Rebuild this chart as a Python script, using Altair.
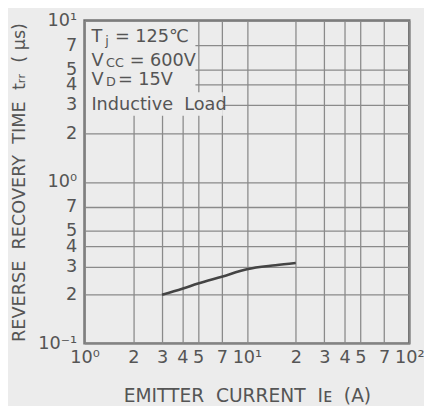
import altair as alt
import pandas as pd

# data
current_a = [3, 4, 5, 7, 10, 15, 20]
trr_us = [0.2, 0.218, 0.235, 0.259, 0.288, 0.305, 0.315]

x_ticks = [1, 2, 3, 4, 5, 7, 10, 20, 30, 40, 50, 70, 100]
x_tick_labels = ["10⁰", "2", "3", "4", "5", "7", "10¹", "2", "3", "4", "5", "7", "10²"]
y_ticks = [0.1, 0.2, 0.3, 0.4, 0.5, 0.7, 1, 2, 3, 4, 5, 7, 10]
y_tick_labels = ["10⁻¹", "2", "3", "4", "5", "7", "10⁰", "2", "3", "4", "5", "7", "10¹"]

FONT = "DejaVu Sans"
INK = "#555555"
BG = "#ececec"
SP = "\u00a0 "


def label_expr(vals, labs):
    expr = "''"
    for v, l in reversed(list(zip(vals, labs))):
        expr = f"abs(datum.value - {v}) < {v} * 0.001 ? '{l}' : ({expr})"
    return expr


df = pd.DataFrame({"ie": current_a, "trr": trr_us})
one = pd.DataFrame({"k": [0]})

xscale = alt.Scale(type="log", domain=[1, 100], nice=False)
yscale = alt.Scale(type="log", domain=[0.1, 10], nice=False)

x_title = SP.join(["EMITTER", "CURRENT", "Iᴇ", "(A)"])
y_title = SP.join(["REVERSE", "RECOVERY", "TIME", "tᵣᵣ", "( μs)"])

curve = alt.Chart(df).mark_line(color="#444444", strokeWidth=2.6, interpolate="monotone").encode(
    x=alt.X("ie:Q", scale=xscale,
            axis=alt.Axis(values=x_ticks, labelExpr=label_expr(x_ticks, x_tick_labels),
                          title=x_title, grid=True, ticks=False, domain=False,
                          labelFont=FONT, labelFontSize=18, labelColor=INK, labelPadding=6,
                          labelFlush=False, labelOverlap=False,
                          titleFont=FONT, titleFontSize=19, titleFontWeight="normal", titleColor=INK,
                          titlePadding=20, gridColor="#8a8a8a", gridWidth=1.3, gridOpacity=1)),
    y=alt.Y("trr:Q", scale=yscale,
            axis=alt.Axis(values=y_ticks, labelExpr=label_expr(y_ticks, y_tick_labels),
                          title=y_title, grid=True, ticks=False, domain=False,
                          labelFont=FONT, labelFontSize=18, labelColor=INK, labelPadding=8,
                          labelFlush=False, labelOverlap=False,
                          titleFont=FONT, titleFontSize=18, titleFontWeight="normal", titleColor=INK,
                          titlePadding=10, gridColor="#8a8a8a", gridWidth=1.3, gridOpacity=1)),
)

mask_a = alt.Chart(one).mark_rect(fill=BG, stroke=None).encode(
    x=alt.value(1.5), x2=alt.value(113), y=alt.value(1.5), y2=alt.value(74))
mask_b = alt.Chart(one).mark_rect(fill=BG, stroke=None).encode(
    x=alt.value(1.5), x2=alt.value(141), y=alt.value(73), y2=alt.value(97))


def txt(s, x, y, size=18):
    return alt.Chart(one).mark_text(text=s, font=FONT, fontSize=size, color=INK,
                                    align="left", baseline="alphabetic").encode(
        x=alt.value(x), y=alt.value(y))


annotations = [
    txt("T", 7, 22), txt("j", 21, 25, 13), txt("= 125℃", 31, 22),
    txt("V", 7, 46), txt("CC", 22, 47, 13), txt("= 600V", 46, 46),
    txt("V", 7, 66), txt("D", 22, 67, 13), txt("= 15V", 34, 66),
    txt("Inductive\u00a0 Load", 7, 91),
]

chart = alt.layer(curve, mask_a, mask_b, *annotations).properties(
    width=331, height=329,
    autosize=alt.AutoSizeParams(type="none"),
    padding={"left": 78, "top": 9, "right": 15, "bottom": 60},
    background=BG,
).configure_view(stroke="#707070", strokeWidth=2.5, fill=BG)

chart.save("out.html", embed_options={"renderer": "svg", "actions": False})
